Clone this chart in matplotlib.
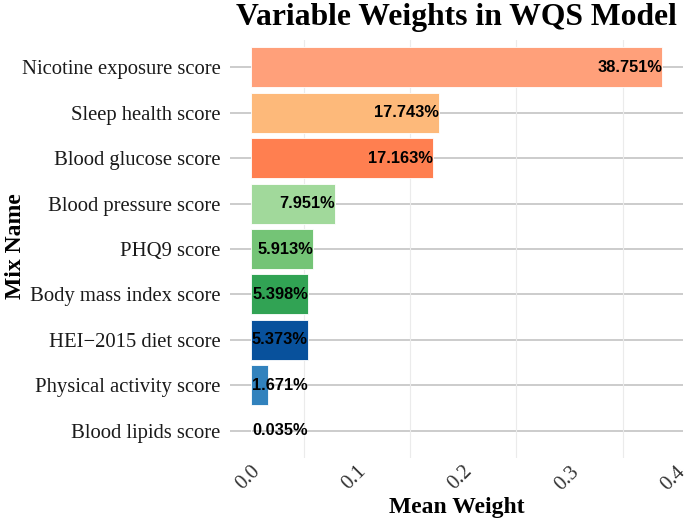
import numpy as np
import matplotlib
matplotlib.use('Agg')
from matplotlib import pyplot as plt
from matplotlib.ticker import MultipleLocator

# WQS weights, top to bottom as shown
mixNames = ['Nicotine exposure score', 'Sleep health score', 'Blood glucose score',
            'Blood pressure score', 'PHQ9 score', 'Body mass index score',
            'HEI\u22122015 diet score', 'Physical activity score', 'Blood lipids score']
weights = [0.38751, 0.17743, 0.17163, 0.07951, 0.05913, 0.05398, 0.05373, 0.01671, 0.00035]
barColors = ['#FFA07A', '#FDB97A', '#FF7F50', '#A1D99B', '#74C476', '#31A354',
             '#08519C', '#3182BD', '#9ECAE1']
xTicks = [0.0, 0.1, 0.2, 0.3, 0.4]

serif = 'Liberation Serif'
sans = 'Liberation Sans'

fig = plt.figure(figsize=(6.85, 5.23), dpi=100)
ax = fig.add_axes([230 / 685, 65 / 523, 453 / 685, 418 / 523])

ys = np.arange(len(mixNames))[::-1]
w = np.array(weights)

for y in ys:
   ax.axhline(y, color='#c8c8c8', linewidth=1.3, zorder=0)
ax.xaxis.set_minor_locator(MultipleLocator(0.05))
ax.grid(which='minor', axis='x', color='#ebebeb', linewidth=0.8, zorder=0)

ax.barh(ys, w, height=0.88, color=barColors, edgecolor='white', linewidth=0.6, zorder=2)

# labels sit at the bar end, but never further left than the HEI bar end
labelX = np.maximum(w, weights[6])
for y, x, v in zip(ys, labelX, w):
   ax.text(x, y, '%.3f%%' % (v * 100), ha='right', va='center', fontsize=11.8,
           fontweight='bold', family=sans, color='black', zorder=3)

ax.set_xlim(-0.0194, 0.4069)
ax.set_ylim(-0.6, len(mixNames) - 0.4)
ax.set_yticks(ys)
ax.set_yticklabels(mixNames, family=serif, fontsize=14.9, color='#1a1a1a')
ax.set_xticks(xTicks)
ax.set_xticklabels(['%.1f' % t for t in xTicks], rotation=45, ha='right', va='top',
                   rotation_mode='anchor', family=serif, fontsize=15, color='#333333')
ax.tick_params(axis='both', which='both', length=0, pad=3)
ax.tick_params(axis='y', pad=7)
for s in ax.spines.values():
   s.set_visible(False)

ax.set_xlabel('Mean Weight', family=serif, fontsize=17, fontweight='bold', labelpad=2)
fig.text(0.022, 0.53, 'Mix Name', rotation=90, ha='center', va='center', family=serif,
         fontsize=17, fontweight='bold')
fig.text(456 / 685, 1 - 18 / 523, 'Variable Weights in WQS Model', ha='center', va='center',
         family=serif, fontsize=22.8, fontweight='bold')

fig.savefig('out.png', dpi=100)
